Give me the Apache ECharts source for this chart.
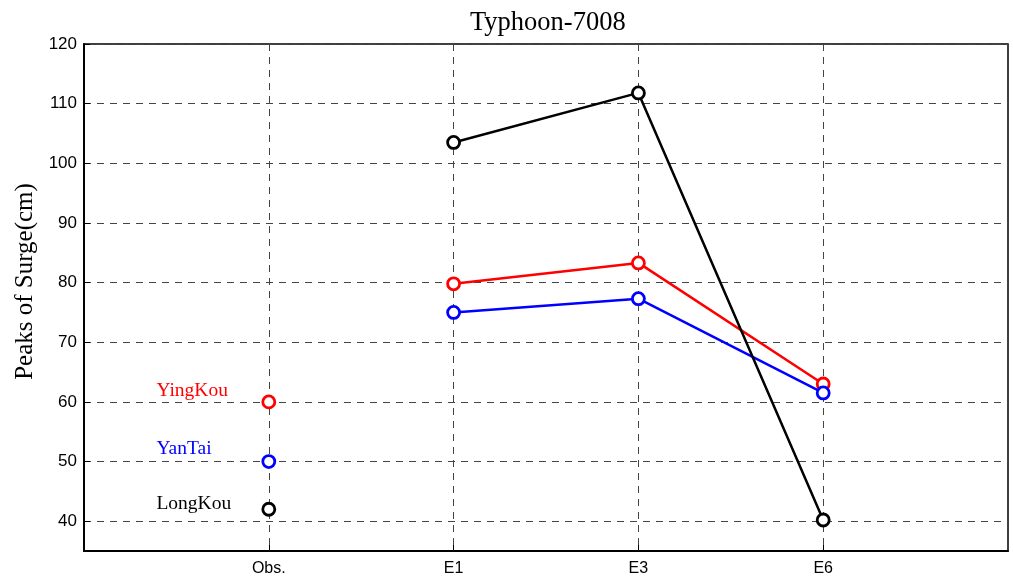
<!DOCTYPE html>
<html>
<head>
<meta charset="utf-8">
<script src="https://cdn.jsdelivr.net/npm/echarts@6/dist/echarts.min.js"></script>
<style>
  html, body { margin: 0; padding: 0; background: #fff; }
  #chart { width: 1013px; height: 579px; }
</style>
</head>
<body>
<div id="chart"></div>
<script>
// Experiments along the x axis (positions 1..4)
const categories = ['Obs.', 'E1', 'E3', 'E6'];
const yTicks = [40, 50, 60, 70, 80, 90, 100, 110, 120];

// Surge peaks (cm) per station, in category order
const yingKou = [60, 79.8, 83.3, 63.0];
const yanTai = [50, 75.0, 77.3, 61.5];
const longKou = [42, 103.5, 111.8, 40.2];

const stations = [
  { name: 'YingKou', values: yingKou, color: '#ff0000', labelDy: -4 },
  { name: 'YanTai', values: yanTai, color: '#0000ff', labelDy: -5 },
  { name: 'LongKou', values: longKou, color: '#000000', labelDy: 2 }
];

const serif = '"Liberation Serif", "Times New Roman", serif';
const sans = '"Liberation Sans", Arial, sans-serif';
const xTicks = categories.map((c, i) => i + 1);

// Observed point stands alone; the model runs are joined by a line
function buildData(st) {
  const v = st.values;
  const data = [
    {
      value: [1, v[0]],
      label: {
        show: true,
        formatter: st.name,
        position: [-105, st.labelDy],
        align: 'left',
        verticalAlign: 'middle',
        color: st.color,
        fontFamily: serif,
        fontSize: 19.5
      }
    },
    [1.5, '-']
  ];
  for (let i = 1; i < v.length; i++) data.push([i + 1, v[i]]);
  return data;
}

const series = stations.map(st => ({
  name: st.name,
  type: 'line',
  data: buildData(st),
  connectNulls: false,
  symbol: 'circle',
  symbolSize: 12,
  showSymbol: true,
  itemStyle: { color: '#fff', borderColor: st.color, borderWidth: 2.8 },
  lineStyle: { color: st.color, width: 2.5 },
  emphasis: { disabled: true },
  animation: false,
  z: 3
}));

const chart = echarts.init(document.getElementById('chart'), null, { renderer: 'canvas' });
chart.setOption({
  backgroundColor: '#ffffff',
  animation: false,
  title: {
    text: 'Typhoon-7008',
    left: 465,
    top: 5,
    textStyle: { fontFamily: serif, fontSize: 26.5, fontWeight: 'normal', color: '#000' }
  },
  grid: {
    left: 84, right: 5, top: 44, bottom: 28,
    containLabel: false,
    outerBoundsMode: 'none',
    show: true, borderColor: '#000', borderWidth: 1.5
  },
  xAxis: {
    type: 'value',
    min: 0,
    max: 5,
    axisLine: { show: true, onZero: false, lineStyle: { color: '#000', width: 2 } },
    axisTick: { show: true, inside: true, length: 6, customValues: xTicks, lineStyle: { color: '#000', width: 1 } },
    axisLabel: {
      customValues: xTicks,
      formatter: v => categories[Math.round(v) - 1] || '',
      color: '#000', fontFamily: sans, fontSize: 16, margin: 10
    },
    splitLine: { show: true, lineStyle: { color: '#444', type: [7, 6], width: 1 } }
  },
  yAxis: {
    type: 'value',
    min: 35,
    max: 120,
    name: 'Peaks of Surge(cm)',
    nameLocation: 'middle',
    nameGap: 44,
    nameTextStyle: { fontFamily: serif, fontSize: 25, color: '#000', padding: [0, 0, 0, 32] },
    axisLine: { show: true, onZero: false, lineStyle: { color: '#000', width: 2 } },
    axisTick: { show: true, inside: true, length: 6, customValues: yTicks, lineStyle: { color: '#000', width: 1 } },
    axisLabel: { customValues: yTicks, color: '#000', fontFamily: sans, fontSize: 17, margin: 7 },
    splitLine: { show: true, lineStyle: { color: '#444', type: [7, 6], width: 1 } }
  },
  series: series
});
</script>
</body>
</html>
